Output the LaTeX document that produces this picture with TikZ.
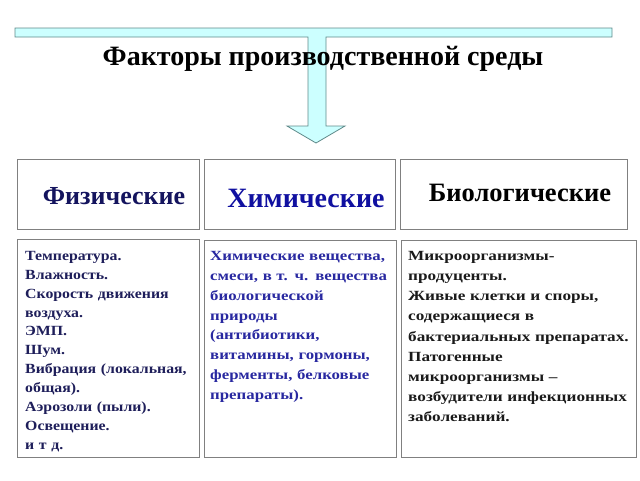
\documentclass[tikz,border=0pt]{standalone}
\usepackage{fontspec}
\setmainfont{Liberation Serif}
\newfontfamily\stretchA[FakeStretch=1.13]{Liberation Serif}
\newfontfamily\stretchB[FakeStretch=1.2]{Liberation Serif}
\newfontfamily\stretchC[FakeStretch=1.23]{Liberation Serif}
\definecolor{boxgray}{HTML}{808080}
\definecolor{arrowfill}{HTML}{CCFFFF}
\definecolor{arrowdraw}{HTML}{5F8A8A}
\definecolor{navy}{HTML}{14145E}
\definecolor{chemblue}{HTML}{1010A0}
\definecolor{txtone}{HTML}{1E1E5A}
\definecolor{txttwo}{HTML}{2828A0}
\definecolor{txtthree}{HTML}{1A1A1A}
\tikzset{
  box/.style={draw=boxgray,line width=1.3pt,inner sep=0pt,anchor=north west},
  head/.style={inner sep=0pt},
  body/.style={inner sep=0pt,anchor=north west,align=left}
}
\begin{document}
\begin{tikzpicture}[x=1pt,y=-1pt]
\useasboundingbox (0,0) rectangle (640,480);
\draw[fill=arrowfill,draw=arrowdraw,line width=0.8pt]
  (15,28) -- (612,28) -- (612,37) -- (326,37) -- (326,126) -- (345,126)
  -- (316,143) -- (287,126) -- (308,126) -- (308,37) -- (15,37) -- cycle;
\node[font=\bfseries\fontsize{28}{32}\selectfont,inner sep=0pt] (title) at (323,59) {Факторы производственной среды};
\node[box,minimum width=182pt,minimum height=70pt] (b1) at (17,159) {};
\node[box,minimum width=191pt,minimum height=70pt] (b2) at (204,159) {};
\node[box,minimum width=227pt,minimum height=70pt] (b3) at (400,159) {};
\node[head,text=navy,font=\bfseries\fontsize{26}{30}\selectfont] (h1) at (114,196) {Физические};
\node[head,text=chemblue,font=\bfseries\fontsize{28}{32}\selectfont] (h2) at (306,198) {Химические};
\node[head,text=black,font=\bfseries\fontsize{26.5}{30}\selectfont] (h3) at (520,193) {Биологические};
\node[box,minimum width=182pt,minimum height=218pt] (c1) at (17,239) {};
\node[box,minimum width=192pt,minimum height=217pt] (c2) at (204,240) {};
\node[box,minimum width=235pt,minimum height=217pt] (c3) at (401,240) {};
\node[body,text=txtone,text width=180pt,font=\stretchA\bfseries\fontsize{14}{18.9}\selectfont] (t1) at (25,251) {Температура.\\Влажность.\\Скорость движения\\воздуха.\\ЭМП.\\Шум.\\Вибрация (локальная,\\общая).\\Аэрозоли (пыли).\\Освещение.\\и т д.};
\node[body,text=txttwo,text width=188pt,font=\stretchB\bfseries\fontsize{14}{19.9}\selectfont] (t2) at (210,251) {Химические вещества,\\смеси, в т. ч. вещества\\биологической\\природы\\(антибиотики,\\витамины, гормоны,\\ферменты, белковые\\препараты).};
\node[body,text=txtthree,text width=232pt,font=\stretchC\bfseries\fontsize{14}{20.2}\selectfont] (t3) at (408,251) {Микроорганизмы-\\продуценты.\\Живые клетки и споры,\\содержащиеся в\\бактериальных препаратах.\\Патогенные\\микроорганизмы –\\возбудители инфекционных\\заболеваний.};
\end{tikzpicture}
\end{document}
